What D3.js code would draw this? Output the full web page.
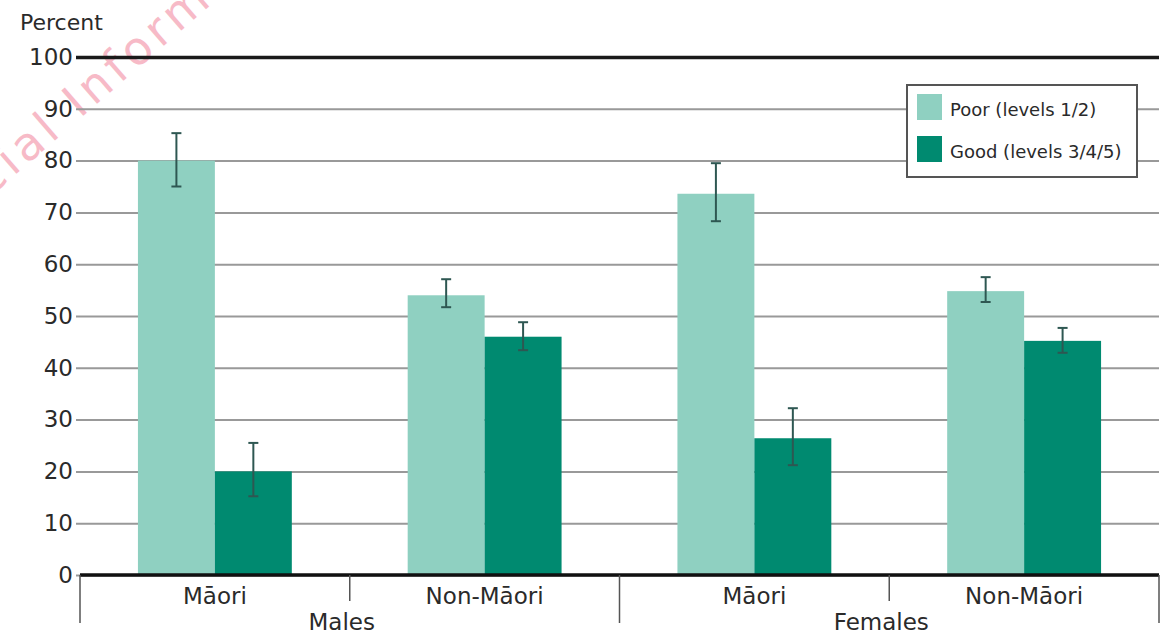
<!DOCTYPE html>
<html>
<head>
<meta charset="utf-8">
<script src="https://cdn.jsdelivr.net/npm/d3@7"></script>
<style>
  html, body { margin: 0; padding: 0; background: #fff; }
  svg { display: block; }
  text { font-family: "DejaVu Sans", sans-serif; fill: #2a2a2a; }
</style>
</head>
<body>
<svg id="chart" width="1173" height="635"></svg>
<script>
// ---- data ----
const categories = ["Māori", "Non-Māori", "Māori", "Non-Māori"];
const groups = ["Males", "Females"];
const seriesNames = ["Poor (levels 1/2)", "Good (levels 3/4/5)"];
const poorValues = [80, 54, 73.6, 54.8];
const poorLow = [75, 51.7, 68.3, 52.7];
const poorHigh = [85.3, 57.1, 79.5, 57.5];
const goodValues = [20, 46, 26.4, 45.2];
const goodLow = [15.2, 43.4, 21.2, 42.9];
const goodHigh = [25.5, 48.8, 32.2, 47.7];
const yTicks = [0, 10, 20, 30, 40, 50, 60, 70, 80, 90, 100];
const colors = ["#8fd0c1", "#008a70"];

// ---- layout ----
const svg = d3.select("#chart");
const plotLeft = 80, plotRight = 1159, plotTop = 57, plotBottom = 575;

const catIdx = categories.map((c, i) => i);
const x0 = d3.scaleBand().domain(catIdx).range([plotLeft, plotRight]).padding(0);
const x1 = d3.scaleBand().domain([0, 1]).range([0, x0.bandwidth()]).paddingInner(0).paddingOuter(0.753);
const y = d3.scaleLinear().domain([0, 100]).range([plotBottom, plotTop]);

// watermark (partly outside the frame, as in the reference)
svg.append("text")
  .attr("transform", "translate(-86,263) rotate(-41)")
  .attr("font-size", 46)
  .attr("letter-spacing", 5)
  .style("fill", "#f07890")
  .style("opacity", 0.5)
  .text("Official Information");

// gridlines + y labels
const yAxis = d3.axisLeft(y).tickValues(yTicks).tickSize(-(plotRight - plotLeft + 4)).tickPadding(6);
const gy = svg.append("g").attr("transform", `translate(${plotLeft - 4},0)`).call(yAxis);
gy.select(".domain").remove();
gy.selectAll(".tick line")
  .attr("stroke", d => d === 100 ? "#1a1a1a" : "#999")
  .attr("stroke-width", d => d === 100 ? 3.5 : 2);
gy.selectAll(".tick text")
  .attr("font-size", 23)
  .attr("x", -3)
  .style("fill", "#2a2a2a")
  .style("font-family", "'DejaVu Sans', sans-serif");

// y title
svg.append("text").attr("x", 20).attr("y", 30).attr("font-size", 22).text("Percent");

// bars
const seriesData = [
  { values: poorValues, low: poorLow, high: poorHigh },
  { values: goodValues, low: goodLow, high: goodHigh }
];
seriesData.forEach((s, si) => {
  svg.append("g").selectAll("rect").data(s.values).join("rect")
    .attr("x", (d, i) => x0(i) + x1(si))
    .attr("y", d => y(d))
    .attr("width", x1.bandwidth())
    .attr("height", d => y(0) - y(d))
    .attr("fill", colors[si]);
});

// error bars
seriesData.forEach((s, si) => {
  const g = svg.append("g").attr("stroke", "#2e5752").attr("stroke-width", 2);
  s.values.forEach((v, i) => {
    const cx = x0(i) + x1(si) + x1.bandwidth() / 2;
    g.append("line").attr("x1", cx).attr("x2", cx).attr("y1", y(s.low[i])).attr("y2", y(s.high[i]));
    g.append("line").attr("x1", cx - 5).attr("x2", cx + 5).attr("y1", y(s.high[i])).attr("y2", y(s.high[i]));
    g.append("line").attr("x1", cx - 5).attr("x2", cx + 5).attr("y1", y(s.low[i])).attr("y2", y(s.low[i]));
  });
});

// baseline
svg.append("line").attr("x1", plotLeft).attr("x2", plotRight).attr("y1", y(0)).attr("y2", y(0))
  .attr("stroke", "#111").attr("stroke-width", 3.5);

// separators
const sepX = [plotLeft, x0(1), x0(2), x0(3), plotRight];
sepX.forEach((sx, i) => {
  const isLong = i % 2 === 0;
  svg.append("line").attr("x1", sx).attr("x2", sx)
    .attr("y1", y(0)).attr("y2", isLong ? 623 : 601)
    .attr("stroke", "#555").attr("stroke-width", 1.5);
});

// category labels
svg.append("g").selectAll("text").data(categories).join("text")
  .attr("x", (d, i) => x0(i) + x0.bandwidth() / 2)
  .attr("y", 604)
  .attr("text-anchor", "middle")
  .attr("font-size", 23)
  .text(d => d);

// group labels
groups.forEach((gname, gi) => {
  svg.append("text")
    .attr("x", x0(gi * 2 + 1) - 8)
    .attr("y", 630)
    .attr("text-anchor", "middle")
    .attr("font-size", 23)
    .text(gname);
});

// legend
const lg = svg.append("g");
lg.append("rect").attr("x", 907).attr("y", 85).attr("width", 230).attr("height", 92)
  .attr("fill", "#fff").attr("stroke", "#555").attr("stroke-width", 2);
seriesNames.forEach((name, i) => {
  lg.append("rect").attr("x", 917).attr("y", 94 + i * 42).attr("width", 25).attr("height", 26)
    .attr("fill", colors[i]);
  lg.append("text").attr("x", 950).attr("y", 116 + i * 42).attr("font-size", 18).text(name);
});
</script>
</body>
</html>
